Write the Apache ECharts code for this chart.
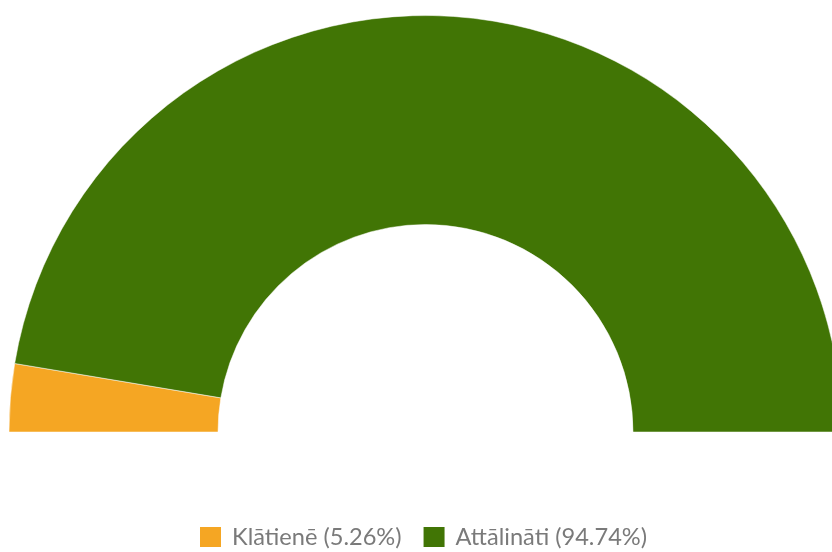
<!DOCTYPE html>
<html><head><meta charset="utf-8">
<script src="https://cdn.jsdelivr.net/npm/echarts@6/dist/echarts.min.js"></script>
<style>html,body{margin:0;padding:0;background:#fff}#c{width:832px;height:552px}</style>
</head><body><div id="c"></div>
<script>
const categories = ['Klātienē', 'Attālināti'];
const values = [5.26, 94.74];
const colors = ['#F5A623', '#417505'];

const chart = echarts.init(document.getElementById('c'));
chart.setOption({
  animation: false,
  legend: {
    bottom: -2,
    left: 193,
    itemWidth: 23,
    itemHeight: 22,
    itemGap: 20,
    icon: 'rect',
    textStyle: { fontFamily: 'Lato', fontSize: 23.6, color: '#7a7a7a', padding: [0, 0, 0, 5] },
    formatter: function (name) {
      const i = categories.indexOf(name);
      return name + ' (' + values[i].toFixed(2) + '%)';
    },
    data: categories
  },
  series: [{
    type: 'pie',
    center: [425.5, 432],
    radius: [207.5, 416.5],
    startAngle: 180,
    endAngle: 0,
    clockwise: true,
    label: { show: false },
    labelLine: { show: false },
    itemStyle: { borderColor: '#fff', borderWidth: 0.5 },
    emphasis: { disabled: true },
    data: categories.map((c, i) => ({ name: c, value: values[i], itemStyle: { color: colors[i] } }))
  }]
});
</script></body></html>
